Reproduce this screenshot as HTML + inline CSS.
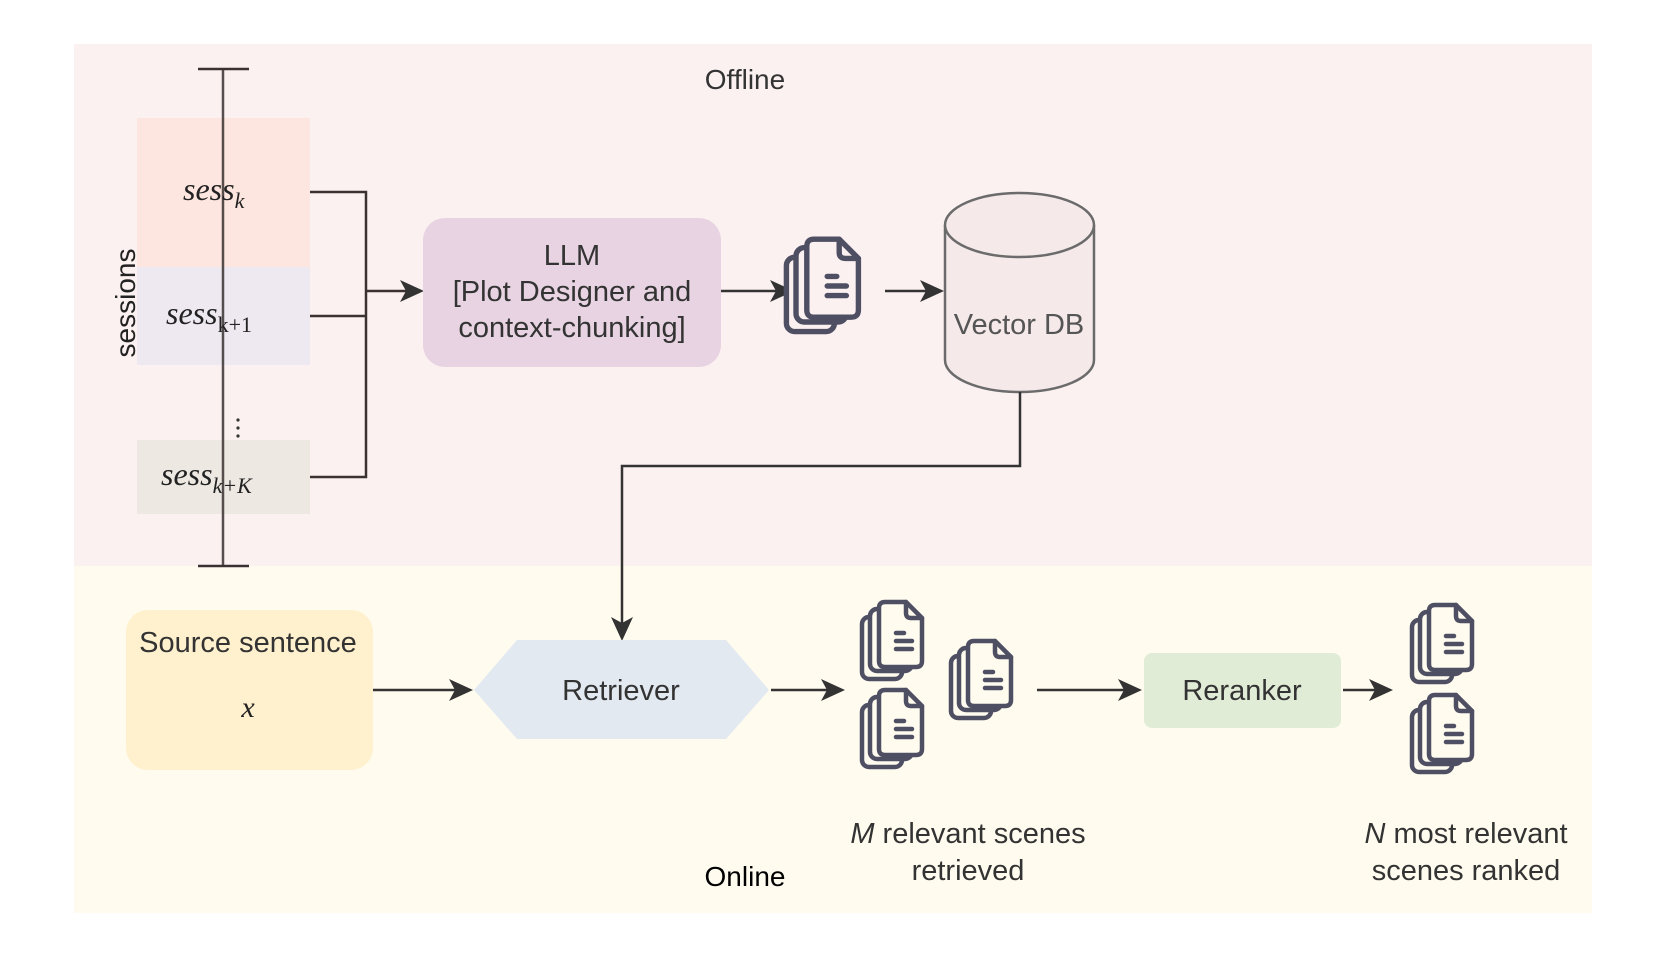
<!DOCTYPE html>
<html><head><meta charset="utf-8"><style>
html,body{margin:0;padding:0;background:#fff;}
svg{display:block;}
text{font-family:"Liberation Sans",sans-serif;}
.m{font-family:"Liberation Serif",serif;font-style:italic;}
</style></head><body>
<svg width="1660" height="953" viewBox="0 0 1660 953" xmlns="http://www.w3.org/2000/svg">
<defs>
<g id="doc" stroke="#4f4f63" stroke-width="4.5" stroke-linejoin="round" stroke-linecap="round">
<rect x="2" y="16" width="40" height="62" rx="7"/>
<rect x="10" y="8" width="42" height="62" rx="7"/>
<path d="M25,1 h21 l16,16 v43 q0,6 -6,6 h-31 q-6,0 -6,-6 v-53 q0,-6 6,-6z"/>
<path d="M46,1 v11 q0,5 5,5 h11" fill="none"/>
<path d="M36,32 h8 M36,40 h16 M36,48 h16" fill="none"/>
</g>
</defs>
<rect x="74" y="44" width="1518" height="522" fill="#fcf1f1"/>
<rect x="74" y="566" width="1518" height="347" fill="#fffbef"/>
<text x="745" y="89" font-size="28" fill="#333" text-anchor="middle">Offline</text>
<text x="745" y="886" font-size="28" fill="#000" text-anchor="middle">Online</text>

<rect x="137" y="118" width="173" height="149" fill="#fde6df"/>
<rect x="137" y="267" width="173" height="98" fill="#eee8f1"/>
<rect x="137" y="440" width="173" height="74" fill="#ede8e2"/>
<g stroke="#3a3232" stroke-width="2.5" fill="none">
<line x1="223" y1="69" x2="223" y2="566" stroke-opacity="0.85"/>
<line x1="198" y1="69" x2="249" y2="69"/>
<line x1="198" y1="566" x2="249" y2="566"/>
<path d="M310,192 H366 V477 H310 M310,316 H366 M366,291 H410"/>
</g>
<circle cx="238" cy="420" r="1.6" fill="#333"/><circle cx="238" cy="428" r="1.6" fill="#333"/><circle cx="238" cy="436" r="1.6" fill="#333"/>
<text class="m" x="183" y="200" font-size="32" fill="#222">sess<tspan font-size="22" dy="8">k</tspan></text>
<text class="m" x="166" y="324" font-size="32" fill="#222">sess<tspan font-size="22" dy="8" font-style="normal">k+1</tspan></text>
<text class="m" x="161" y="485" font-size="32" fill="#222">sess<tspan font-size="22" dy="8">k+K</tspan></text>
<text transform="translate(135,303) rotate(-90)" font-size="28" fill="#222" text-anchor="middle">sessions</text>

<path d="M424,291 l-24,-11 l6,11 l-6,11z" fill="#333"/>
<rect x="423" y="218" width="298" height="149" rx="22" fill="#e7d3e1"/>
<text x="572" y="265" font-size="29" fill="#333" text-anchor="middle">LLM</text>
<text x="572" y="301" font-size="29" fill="#333" text-anchor="middle">[Plot Designer and</text>
<text x="572" y="337" font-size="29" fill="#333" text-anchor="middle">context-chunking]</text>
<line x1="721" y1="291" x2="780" y2="291" stroke="#333" stroke-width="2.5"/>
<path d="M794,291 l-24,-11 l6,11 l-6,11z" fill="#333"/>
<use href="#doc" fill="#fcf1f1" transform="translate(784,238) scale(1.2)"/>
<line x1="885" y1="291" x2="930" y2="291" stroke="#333" stroke-width="2.5"/>
<path d="M944,291 l-24,-11 l6,11 l-6,11z" fill="#333"/>

<path d="M945,225 V360 A74.5,32 0 0 0 1094,360 V225" fill="#f5e9e9" stroke="#6b6b6b" stroke-width="2.5"/>
<ellipse cx="1019.5" cy="225" rx="74.5" ry="32" fill="#f5e9e9" stroke="#6b6b6b" stroke-width="2.5"/>
<text x="1019" y="334" font-size="29" fill="#555" text-anchor="middle">Vector DB</text>
<path d="M1020,392 V466 H622 V630" fill="none" stroke="#333" stroke-width="2.5"/>
<path d="M622,641 l-11,-24 l11,6 l11,-6z" fill="#333"/>

<rect x="126" y="610" width="247" height="160" rx="22" fill="#fff1cd"/>
<text x="248" y="652" font-size="29" fill="#333" text-anchor="middle">Source sentence</text>
<text class="m" x="248" y="717" font-size="30" fill="#222" text-anchor="middle">x</text>
<line x1="373" y1="690" x2="460" y2="690" stroke="#333" stroke-width="2.5"/>
<path d="M473,690 l-24,-11 l6,11 l-6,11z" fill="#333"/>
<polygon points="474,690 517,640 726,640 769,690 726,739 517,739" fill="#e2e9f0"/>
<text x="621" y="700" font-size="29" fill="#333" text-anchor="middle">Retriever</text>
<line x1="771" y1="690" x2="832" y2="690" stroke="#333" stroke-width="2.5"/>
<path d="M845,690 l-24,-11 l6,11 l-6,11z" fill="#333"/>
<use href="#doc" x="860" y="601" fill="#fffbef"/>
<use href="#doc" x="860" y="689" fill="#fffbef"/>
<use href="#doc" x="949" y="640" fill="#fffbef"/>
<line x1="1037" y1="690" x2="1128" y2="690" stroke="#333" stroke-width="2.5"/>
<path d="M1142,690 l-24,-11 l6,11 l-6,11z" fill="#333"/>
<rect x="1144" y="653" width="197" height="75" rx="8" fill="#e1ecd6"/>
<text x="1242" y="700" font-size="29" fill="#333" text-anchor="middle">Reranker</text>
<line x1="1343" y1="690" x2="1380" y2="690" stroke="#333" stroke-width="2.5"/>
<path d="M1393,690 l-24,-11 l6,11 l-6,11z" fill="#333"/>
<use href="#doc" x="1410" y="604" fill="#fffbef"/>
<use href="#doc" x="1410" y="694" fill="#fffbef"/>

<text x="968" y="843" font-size="29" fill="#333" text-anchor="middle"><tspan font-style="italic">M</tspan> relevant scenes</text>
<text x="968" y="880" font-size="29" fill="#333" text-anchor="middle">retrieved</text>
<text x="1466" y="843" font-size="29" fill="#333" text-anchor="middle"><tspan font-style="italic">N</tspan> most relevant</text>
<text x="1466" y="880" font-size="29" fill="#333" text-anchor="middle">scenes ranked</text>
</svg>
</body></html>
